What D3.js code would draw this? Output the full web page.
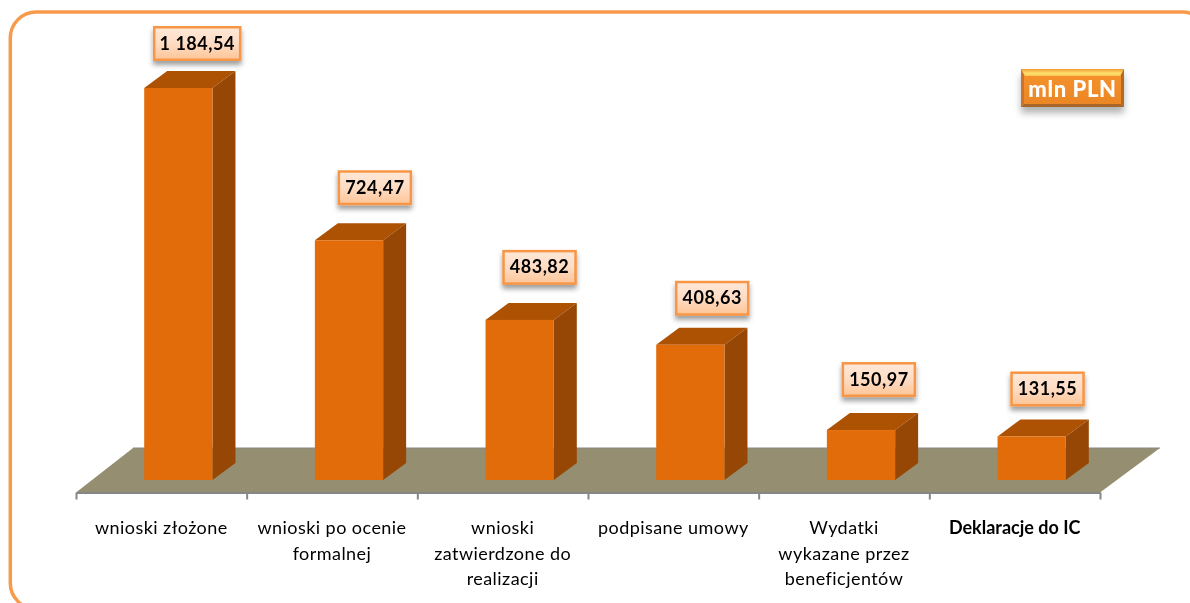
<!DOCTYPE html>
<html lang="pl"><head><meta charset="utf-8">
<script src="https://cdn.jsdelivr.net/npm/d3@7"></script>
<style>html,body{margin:0;padding:0;background:#fff;overflow:hidden}svg{display:block}</style>
</head><body><svg id="c" width="1190" height="603"></svg>
<script>
const categories=["wnioski złożone","wnioski po ocenie formalnej","wnioski zatwierdzone do realizacji","podpisane umowy","Wydatki wykazane przez beneficjentów","Deklaracje do IC"];
const categoryLines=[["wnioski złożone"],["wnioski po ocenie","formalnej"],["wnioski","zatwierdzone do","realizacji"],["podpisane umowy"],["Wydatki","wykazane przez","beneficjentów"],["Deklaracje do IC"]];
const values=[1184.54,724.47,483.82,408.63,150.97,131.55];
const unitLabel="mln PLN";
// manual placement of the callouts relative to the bar (layout, not data)
const calloutDx=[53,60,54,56,52,50], calloutGap=[27,35,35,29,33,30], calloutW=[86,72,72,72,72,72];

const W=1190,H=603,depthX=23,depthY=17,floorBack=448,frontY=480,axisY=492.5;
const svg=d3.select("#c");
const defs=svg.append("defs");
const g1=defs.append("linearGradient").attr("id","lab").attr("x2",0).attr("y2",1);
g1.append("stop").attr("offset",0).attr("stop-color","#fee8d8");
g1.append("stop").attr("offset",.5).attr("stop-color","#fedcc4");
g1.append("stop").attr("offset",1).attr("stop-color","#fdc597");
const g2=defs.append("linearGradient").attr("id","unit").attr("x2",0).attr("y2",1);
g2.append("stop").attr("offset",0).attr("stop-color","#f7932c");
g2.append("stop").attr("offset",1).attr("stop-color","#ea8526");
const g3=defs.append("linearGradient").attr("id","bevel").attr("x2",0).attr("y2",1);
g3.append("stop").attr("offset",0).attr("stop-color","#f29a32");
g3.append("stop").attr("offset",.6).attr("stop-color","#fde06e");
g3.append("stop").attr("offset",1).attr("stop-color","#fbc858");
const sh=defs.append("filter").attr("id","sh").attr("x","-20%").attr("y","-20%").attr("width","140%").attr("height","170%");
sh.append("feDropShadow").attr("dx",0).attr("dy",4).attr("stdDeviation",2.5).attr("flood-color","#000").attr("flood-opacity",.38);
const sh2=defs.append("filter").attr("id","sh2").attr("x","-20%").attr("y","-20%").attr("width","140%").attr("height","190%");
sh2.append("feDropShadow").attr("dx",0).attr("dy",6).attr("stdDeviation",3.5).attr("flood-color","#000").attr("flood-opacity",.3);
defs.append("filter").attr("id","soft").append("feGaussianBlur").attr("stdDeviation",.4);

svg.append("rect").attr("x",10.3).attr("y",12).attr("width",1198).attr("height",597).attr("rx",26)
  .attr("fill","#fff").attr("stroke","#f79a4c").attr("stroke-width",3.5);

const tickScale=d3.scaleLinear().domain([0,categories.length]).range([76,1100]);
const x=d3.scaleBand().domain(categories).range([76,1100]).paddingInner(.6).paddingOuter(.3);
const y=d3.scaleLinear().domain([0,d3.max(values)]).range([frontY,88]);
const off=17; // bars sit right of band centre because of the oblique projection

svg.append("path").attr("fill","#968e71")
  .attr("d",d3.line()([[76,axisY],[133,floorBack],[1160,floorBack],[1100,axisY]])+"Z");
svg.append("line").attr("x1",133).attr("x2",1160).attr("y1",floorBack).attr("y2",floorBack).attr("stroke","#868686").attr("stroke-width",1);

const axis=svg.append("g").attr("transform",`translate(0,${axisY})`)
  .call(d3.axisBottom(tickScale).tickValues(d3.range(categories.length+1)).tickFormat("").tickSize(7).tickSizeOuter(0));
axis.selectAll("path.domain,line").attr("stroke","#868686").attr("stroke-width",2);

const bars=svg.selectAll("g.bar").data(values).join("g").attr("class","bar");
const bx=i=>x(categories[i])+off, bw=x.bandwidth();
bars.append("path").attr("fill","#ad5103").attr("d",(d,i)=>{const a=bx(i),t=y(d);
  return d3.line()([[a,t],[a+depthX,t-depthY],[a+bw+depthX,t-depthY],[a+bw,t]])+"Z"});
bars.append("path").attr("fill","#974705").attr("d",(d,i)=>{const a=bx(i)+bw,t=y(d);
  return d3.line()([[a,t],[a+depthX,t-depthY],[a+depthX,frontY-depthY],[a,frontY]])+"Z"});
bars.append("rect").attr("fill","#e36c0a").attr("x",(d,i)=>bx(i)).attr("y",d=>y(d)).attr("width",bw).attr("height",d=>frontY-y(d));

const fmt=d3.formatLocale({decimal:",",thousands:" ",grouping:[3],currency:["",""]}).format(",.2f");
const cs=svg.selectAll("g.call").data(values).join("g").attr("class","call")
  .attr("transform",(d,i)=>`translate(${bx(i)+calloutDx[i]},${y(d)-calloutGap[i]-17.5})`);
cs.append("rect").attr("x",(d,i)=>-calloutW[i]/2).attr("y",-16.25).attr("width",(d,i)=>calloutW[i]).attr("height",32.5)
  .attr("fill","url(#lab)").attr("stroke","#f79646").attr("stroke-width",2.5).attr("filter","url(#sh)");
cs.append("text").attr("text-anchor","middle").attr("y",6).attr("font-family","Lato").attr("font-weight",700)
  .attr("font-size",18).attr("letter-spacing",.5).attr("fill","#000").attr("filter","url(#soft)").text(d=>fmt(d));

const lab=svg.append("g").attr("font-family","Lato").attr("font-size",18).attr("fill","#000").attr("text-anchor","middle").attr("filter","url(#soft)");
categoryLines.forEach((ls,i)=>{
  const t=lab.append("text").attr("font-weight",i==5?700:400).attr("letter-spacing",i==5?0:.45);
  ls.forEach((l,j)=>t.append("tspan").attr("x",x(categories[i])+bw/2).attr("y",534+j*25.5).text(l));
});

const u=svg.append("g").attr("transform","translate(1021,69)");
u.append("rect").attr("width",103).attr("height",38).attr("fill","url(#unit)").attr("filter","url(#sh2)");
u.append("path").attr("fill","url(#bevel)").attr("d",d3.line()([[0,0],[103,0],[99,7],[4,7]])+"Z");
u.append("path").attr("fill","#c9742a").attr("d",d3.line()([[0,0],[3,6],[3,34],[0,38]])+"Z");
u.append("path").attr("fill","#b56a24").attr("d",d3.line()([[103,0],[100,6],[100,34],[103,38]])+"Z");
u.append("path").attr("fill","#a9662a").attr("d",d3.line()([[0,38],[3,35],[100,35],[103,38]])+"Z");
u.append("text").attr("x",51.5).attr("y",28).attr("text-anchor","middle").attr("font-family","Lato").attr("font-weight",900)
  .attr("font-size",22).attr("letter-spacing",.6).attr("fill","#fff").attr("filter","url(#soft)").text(unitLabel);
</script></body></html>
